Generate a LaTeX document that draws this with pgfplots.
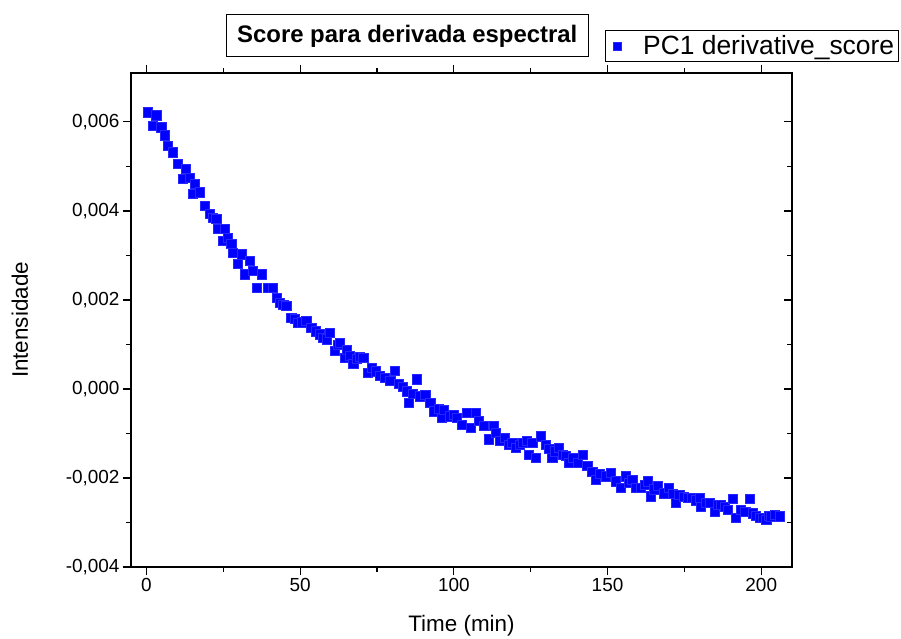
\documentclass[border=0pt]{standalone}
\usepackage{pgfplots}
\pgfplotsset{compat=1.18}
\usepackage{fontspec}
\setmainfont{Liberation Sans}
\begin{document}
\begin{tikzpicture}
\path[use as bounding box] (-131bp,-72bp) rectangle (770bp,567bp);
\begin{axis}[
  scale only axis, width=661bp, height=494bp,
  xmin=-5, xmax=210, ymin=-0.004, ymax=0.0071,
  xtick={0,50,100,150,200}, minor x tick num=1,
  ytick={-0.004,-0.002,0,0.002,0.004,0.006}, minor y tick num=1,
  xtick pos=both, ytick pos=left, tick align=outside,
  xticklabel pos=lower,
  major tick length=8bp, minor tick length=5bp,
  every tick/.style={black, line width=1.1bp},
  axis line style={line width=1.3bp},
  scaled y ticks=false,
  yticklabel style={/pgf/number format/.cd, fixed, fixed zerofill, precision=3, use comma, assume math mode=true},
  xticklabel style={/pgf/number format/assume math mode=true},
  tick label style={font=\fontsize{19}{23}\selectfont},
  xlabel={Time (min)}, ylabel={Intensidade},
  label style={font=\fontsize{22.5}{26}\selectfont},
  xlabel style={at={(axis description cs:0.5,-0.118)}, anchor=center},
  ylabel style={at={(axis description cs:-0.168,0.5)}, anchor=center},
  title={Score para derivada espectral},
  title style={at={(axis description cs:0.418,1.063)}, anchor=center, draw=black, line width=0.8bp, font=\bfseries\fontsize{24}{28}\selectfont, inner xsep=11bp, minimum height=42bp},
  legend style={at={(axis description cs:0.7171,1.0223)}, anchor=south west, draw=black, line width=0.8bp, font=\fontsize{26.5}{30}\selectfont, inner xsep=2bp, inner ysep=3.5bp},
  legend image code/.code={\path (0bp,0bp) (33bp,0bp); \draw[mark=square*, mark size=4bp, blue, line width=0.3bp] plot coordinates {(9bp,0bp)};},
]
\addplot[only marks, mark=square*, mark size=4.6bp, mark options={draw=blue!85!white, fill=blue, line width=0.4bp}] table {
0.4 0.00622
2.1 0.00592
3.2 0.00615
4.8 0.00588
5.9 0.00570
7.0 0.00547
8.6 0.00532
10.2 0.00506
11.8 0.00472
12.9 0.00495
14.0 0.00475
15.1 0.00438
15.7 0.00461
17.3 0.00442
18.9 0.00412
20.5 0.00393
21.6 0.00385
22.7 0.00382
23.2 0.00360
24.9 0.00333
25.4 0.00360
26.5 0.00340
27.6 0.00326
28.2 0.00307
29.8 0.00281
30.9 0.00303
32.0 0.00258
33.6 0.00288
34.7 0.00266
35.8 0.00228
37.4 0.00258
39.6 0.00228
41.2 0.00228
42.3 0.00205
43.4 0.00194
44.5 0.00190
45.5 0.00187
47.1 0.00161
48.2 0.00158
49.3 0.00149
50.5 0.00150
52.0 0.00153
53.6 0.00138
55.0 0.00130
56.4 0.00123
57.5 0.00115
58.6 0.00112
59.7 0.00127
61.3 0.00086
62.2 0.00100
63.0 0.00104
64.6 0.00070
65.1 0.00089
66.2 0.00075
67.3 0.00056
68.5 0.00068
69.5 0.00072
70.5 0.00070
72.0 0.00037
73.2 0.00048
74.5 0.00040
76.0 0.00029
77.5 0.00025
79.3 0.00018
80.9 0.00041
82.0 0.00011
83.5 0.00005
84.7 -0.00005
85.2 -0.00031
86.5 -0.00010
88.0 0.00022
89.0 -0.00016
90.7 -0.00012
92.3 -0.00031
93.4 -0.00050
95.0 -0.00045
96.1 -0.00065
96.6 -0.00046
98.8 -0.00061
100.0 -0.00058
101.0 -0.00065
102.6 -0.00080
104.3 -0.00053
105.4 -0.00087
107.0 -0.00053
108.1 -0.00072
109.7 -0.00083
111.3 -0.00113
112.9 -0.00083
113.5 -0.00098
115.1 -0.00117
116.5 -0.00110
117.9 -0.00125
119.0 -0.00120
120.0 -0.00132
121.5 -0.00125
122.5 -0.00120
123.8 -0.00117
124.4 -0.00147
125.5 -0.00121
126.6 -0.00155
128.2 -0.00106
129.8 -0.00125
131.0 -0.00135
132.0 -0.00155
133.0 -0.00140
134.2 -0.00132
135.3 -0.00147
136.5 -0.00150
137.4 -0.00166
138.8 -0.00155
140.2 -0.00166
141.8 -0.00147
143.4 -0.00173
145.0 -0.00185
146.1 -0.00203
147.5 -0.00190
149.4 -0.00196
151.0 -0.00189
152.6 -0.00207
154.3 -0.00222
155.9 -0.00196
157.0 -0.00210
158.0 -0.00203
159.2 -0.00222
160.8 -0.00222
162.0 -0.00215
163.0 -0.00207
164.0 -0.00241
165.2 -0.00225
166.2 -0.00218
168.4 -0.00234
170.0 -0.00222
171.2 -0.00235
172.3 -0.00256
173.3 -0.00237
174.8 -0.00242
176.1 -0.00245
177.5 -0.00245
178.8 -0.00250
179.9 -0.00245
180.4 -0.00264
181.8 -0.00255
183.1 -0.00256
184.8 -0.00275
186.0 -0.00260
186.9 -0.00260
188.0 -0.00265
189.1 -0.00271
190.7 -0.00247
191.8 -0.00290
193.4 -0.00271
194.8 -0.00275
196.2 -0.00247
197.2 -0.00279
198.3 -0.00285
199.4 -0.00290
200.5 -0.00290
201.6 -0.00294
202.5 -0.00285
203.2 -0.00286
204.5 -0.00282
205.9 -0.00286
};
\addlegendentry{PC1 derivative\textunderscore score}
\end{axis}
\begin{axis}[
  scale only axis, width=661bp, height=494bp,
  xmin=-5, xmax=210, ymin=-0.004, ymax=0.0071,
  axis x line=none, axis y line*=right,
  scaled y ticks=false,
  ytick={-0.004,-0.002,0,0.002,0.004,0.006}, minor y tick num=1,
  ytick align=inside, yticklabels={},
  major tick length=8bp, minor tick length=5bp,
  every tick/.style={black, line width=1.1bp},
  axis line style={line width=1.3bp, -},
]
\end{axis}
\end{tikzpicture}
\end{document}
